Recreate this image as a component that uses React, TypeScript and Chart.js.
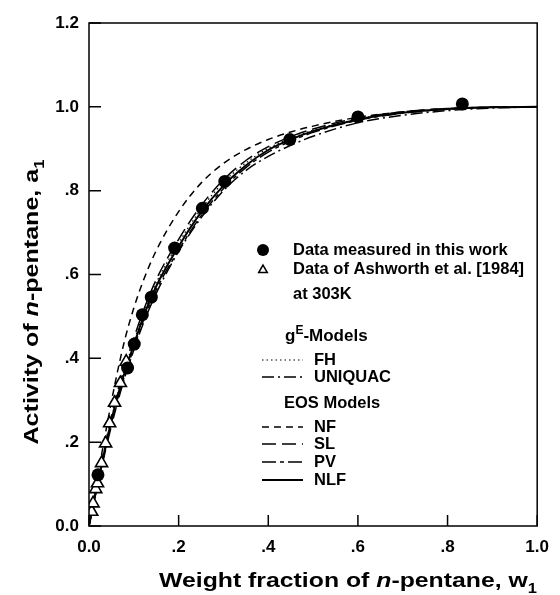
import React, { useEffect, useRef } from "react";
import { Chart, registerables } from "chart.js";

Chart.register(...registerables);

const FONT = '"Liberation Sans", Arial, Helvetica, sans-serif';

// ---- data ----
const measuredW = [0.020, 0.086, 0.101, 0.119, 0.139, 0.191, 0.253, 0.303, 0.448, 0.600, 0.833];
const measuredA = [0.122, 0.377, 0.434, 0.504, 0.546, 0.663, 0.758, 0.822, 0.922, 0.976, 1.007];

const ashworthW = [0.006, 0.009, 0.015, 0.019, 0.028, 0.037, 0.046, 0.057, 0.070, 0.083];
const ashworthA = [0.034, 0.054, 0.088, 0.102, 0.150, 0.197, 0.245, 0.294, 0.341, 0.392];

const modelW = [0, 0.01, 0.02, 0.04, 0.06, 0.08, 0.10, 0.12, 0.15, 0.20, 0.25, 0.30, 0.35, 0.40, 0.45, 0.50, 0.60, 0.70, 0.80, 0.90, 1.00];
const fhA = [0, 0.056, 0.107, 0.208, 0.300, 0.375, 0.440, 0.503, 0.580, 0.675, 0.756, 0.820, 0.866, 0.901, 0.925, 0.944, 0.971, 0.987, 0.995, 0.999, 1.000];
const uniquacA = [0, 0.052, 0.100, 0.195, 0.280, 0.355, 0.420, 0.480, 0.555, 0.655, 0.735, 0.800, 0.848, 0.882, 0.908, 0.930, 0.962, 0.980, 0.991, 0.997, 1.000];
const nfA = [0, 0.062, 0.122, 0.240, 0.350, 0.445, 0.520, 0.582, 0.657, 0.750, 0.818, 0.865, 0.898, 0.922, 0.940, 0.954, 0.975, 0.988, 0.996, 0.999, 1.000];
const slA = [0, 0.057, 0.110, 0.214, 0.306, 0.382, 0.448, 0.510, 0.588, 0.684, 0.764, 0.826, 0.872, 0.905, 0.929, 0.947, 0.973, 0.988, 0.996, 0.999, 1.000];
const pvA = [0, 0.054, 0.103, 0.200, 0.288, 0.360, 0.424, 0.486, 0.563, 0.658, 0.740, 0.805, 0.855, 0.892, 0.918, 0.939, 0.968, 0.985, 0.994, 0.999, 1.000];
const nlfA = [0, 0.055, 0.105, 0.205, 0.295, 0.368, 0.432, 0.495, 0.572, 0.667, 0.748, 0.812, 0.860, 0.897, 0.922, 0.942, 0.970, 0.986, 0.995, 0.999, 1.000];

const xTickValues = [0, 0.2, 0.4, 0.6, 0.8, 1.0];
const yTickValues = [0, 0.2, 0.4, 0.6, 0.8, 1.0, 1.2];

const legendMeasured = "Data measured in this work";
const legendAshworth1 = "Data of Ashworth et al. [1984]";
const legendAshworth2 = "at 303K";
const legendGroupEOS = "EOS Models";

type Part = { t: string; italic?: boolean; sub?: boolean; sup?: boolean };
const xTitleParts: Part[] = [
  { t: "Weight fraction of " },
  { t: "n", italic: true },
  { t: "-pentane, w" },
  { t: "1", sub: true },
];
const yTitleParts: Part[] = [
  { t: "Activity of " },
  { t: "n", italic: true },
  { t: "-pentane, a" },
  { t: "1", sub: true },
];
const gEParts: Part[] = [{ t: "g" }, { t: "E", sup: true }, { t: "-Models" }];

const lineSeries = [
  { label: "FH", values: fhA, dash: [1.5, 3], width: 1.2 },
  { label: "UNIQUAC", values: uniquacA, dash: [12, 4, 2, 4], width: 1.5 },
  { label: "NF", values: nfA, dash: [7, 5], width: 1.5 },
  { label: "SL", values: slA, dash: [14, 6], width: 1.5 },
  { label: "PV", values: pvA, dash: [14, 4, 4, 4], width: 1.5 },
  { label: "NLF", values: nlfA, dash: [] as number[], width: 2 },
];

function tickLabel(v: number): string {
  const s = Number(v).toFixed(1);
  return s.startsWith("0.") && Math.abs(v) > 1e-9 ? s.slice(1) : s;
}

function drawRich(
  ctx: CanvasRenderingContext2D,
  parts: Part[],
  size: number,
  x: number,
  y: number,
  align: "center" | "left",
  targetWidth?: number,
  rotate?: number
) {
  const fontFor = (p: Part) =>
    `${p.italic ? "italic " : ""}bold ${p.sub || p.sup ? Math.round(size * 0.68) : size}px ${FONT}`;
  let total = 0;
  const widths = parts.map((p) => {
    ctx.font = fontFor(p);
    const w = ctx.measureText(p.t).width;
    total += w;
    return w;
  });
  const sx = targetWidth ? targetWidth / total : 1;
  ctx.save();
  ctx.translate(x, y);
  if (rotate) ctx.rotate(rotate);
  ctx.scale(sx, 1);
  ctx.fillStyle = "#000";
  ctx.textBaseline = "alphabetic";
  ctx.textAlign = "left";
  let cx = align === "center" ? -total / 2 : 0;
  parts.forEach((p, i) => {
    ctx.font = fontFor(p);
    const dy = p.sub ? size * 0.28 : p.sup ? -size * 0.42 : 0;
    ctx.fillText(p.t, cx, dy);
    cx += widths[i];
  });
  ctx.restore();
}

const decorPlugin = {
  id: "decor",
  afterDraw(chart: any) {
    const { ctx, chartArea: a, scales } = chart;
    ctx.save();
    ctx.strokeStyle = "#000";
    ctx.lineWidth = 1.5;
    ctx.setLineDash([]);
    ctx.strokeRect(a.left, a.top, a.right - a.left, a.bottom - a.top);
    ctx.beginPath();
    for (const v of xTickValues) {
      const px = scales.x.getPixelForValue(v);
      ctx.moveTo(px, a.bottom);
      ctx.lineTo(px, a.bottom - 11);
    }
    for (const v of yTickValues) {
      const py = scales.y.getPixelForValue(v);
      ctx.moveTo(a.left, py);
      ctx.lineTo(a.left + 12, py);
    }
    ctx.stroke();

    // axis titles
    drawRich(ctx, xTitleParts, 21, 348, 587, "center", 378);
    drawRich(ctx, yTitleParts, 21, 38, 302, "center", 285, -Math.PI / 2);

    // legend
    const legFont = `bold 16.5px ${FONT}`;
    ctx.fillStyle = "#000";
    ctx.textBaseline = "middle";
    ctx.textAlign = "left";

    // filled circle
    ctx.beginPath();
    ctx.arc(263, 250, 6, 0, Math.PI * 2);
    ctx.fill();
    ctx.font = legFont;
    ctx.fillText(legendMeasured, 293, 250);

    // open triangle
    const tr = 5;
    const tx = 263, ty = 270;
    ctx.beginPath();
    ctx.moveTo(tx, ty - tr);
    ctx.lineTo(tx + tr * 0.866, ty + tr * 0.5);
    ctx.lineTo(tx - tr * 0.866, ty + tr * 0.5);
    ctx.closePath();
    ctx.fillStyle = "#fff";
    ctx.fill();
    ctx.lineWidth = 1.5;
    ctx.stroke();
    ctx.fillStyle = "#000";
    ctx.fillText(legendAshworth1, 293, 269);
    ctx.fillText(legendAshworth2, 293, 294);

    drawRich(ctx, gEParts, 17, 285, 341, "left");

    ctx.font = legFont;
    ctx.textBaseline = "middle";
    ctx.fillText(legendGroupEOS, 284, 403);

    const rowY: Record<string, number> = { FH: 360, UNIQUAC: 377, NF: 427, SL: 444, PV: 462, NLF: 480 };
    chart.data.datasets.forEach((ds: any) => {
      const y = rowY[ds.label];
      if (y === undefined) return;
      ctx.save();
      ctx.strokeStyle = "#000";
      ctx.lineWidth = ds.borderWidth;
      ctx.setLineDash(ds.borderDash || []);
      ctx.beginPath();
      ctx.moveTo(262, y);
      ctx.lineTo(303, y);
      ctx.stroke();
      ctx.restore();
      ctx.font = legFont;
      ctx.textBaseline = "middle";
      ctx.fillStyle = "#000";
      ctx.fillText(ds.label, 314, y);
    });
    ctx.restore();
  },
};

export default function App() {
  const canvasRef = useRef<HTMLCanvasElement | null>(null);

  useEffect(() => {
    if (!canvasRef.current) return;
    const datasets: any[] = [
      {
        label: "measured",
        data: measuredW.map((w, i) => ({ x: w, y: measuredA[i] })),
        pointStyle: "circle",
        pointRadius: 6.5,
        backgroundColor: "#000",
        borderColor: "#000",
        borderWidth: 0,
        showLine: false,
        order: 0,
      },
      {
        label: "ashworth",
        data: ashworthW.map((w, i) => ({ x: w, y: ashworthA[i] })),
        pointStyle: "triangle",
        pointRadius: 7,
        backgroundColor: "#fff",
        borderColor: "#000",
        borderWidth: 1.6,
        showLine: false,
        order: 1,
      },
      ...lineSeries.map((s, k) => ({
        label: s.label,
        data: modelW.map((w, i) => ({ x: w, y: s.values[i] })),
        showLine: true,
        pointRadius: 0,
        borderColor: "#000",
        backgroundColor: "#000",
        borderWidth: s.width,
        borderDash: s.dash,
        cubicInterpolationMode: "monotone",
        fill: false,
        order: 2 + k,
      })),
    ];

    const tickFont = { family: FONT, size: 17, weight: "bold" as const };
    const chart = new Chart(canvasRef.current, {
      type: "scatter",
      data: { datasets },
      options: {
        responsive: false,
        animation: false,
        layout: { padding: { left: 0, top: 23, right: 15, bottom: 0 } },
        plugins: { legend: { display: false }, tooltip: { enabled: false } },
        scales: {
          x: {
            type: "linear",
            min: 0,
            max: 1,
            ticks: {
              stepSize: 0.2,
              callback: (v: any) => tickLabel(Number(v)),
              color: "#000",
              font: tickFont,
              padding: 11,
              maxRotation: 0,
            },
            grid: { display: false, drawTicks: false },
            border: { display: false },
            afterFit: (s: any) => {
              s.height = 69;
            },
          },
          y: {
            type: "linear",
            min: 0,
            max: 1.2,
            ticks: {
              stepSize: 0.2,
              callback: (v: any) => tickLabel(Number(v)),
              color: "#000",
              font: tickFont,
              padding: 10,
            },
            grid: { display: false, drawTicks: false },
            border: { display: false },
            afterFit: (s: any) => {
              s.width = 89;
            },
          },
        },
      } as any,
      plugins: [decorPlugin],
    });
    return () => chart.destroy();
  }, []);

  return (
    <div style={{ position: "fixed", left: 0, top: 0, width: 560, height: 595, background: "#fff" }}>
      <canvas ref={canvasRef} width={560} height={595} style={{ display: "block", width: 560, height: 595 }} />
    </div>
  );
}
